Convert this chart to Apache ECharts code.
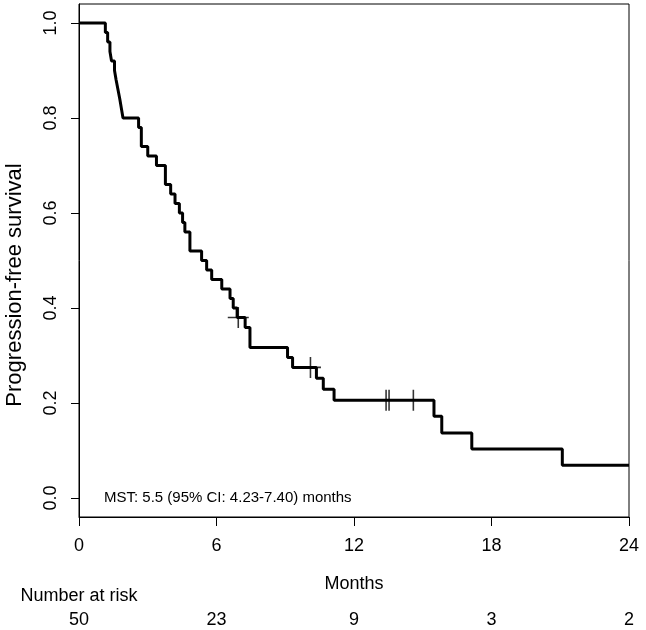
<!DOCTYPE html>
<html>
<head>
<meta charset="utf-8">
<script src="https://cdn.jsdelivr.net/npm/echarts@6/dist/echarts.min.js"></script>
<style>
html,body{margin:0;padding:0;background:#fff;}
#chart{width:646px;height:630px;}
</style>
</head>
<body>
<div id="chart"></div>
<script>
// Kaplan-Meier step data (months, survival after the event)
var times = [0, 1.15, 1.25, 1.35, 1.42, 1.55, 1.62, 1.70, 1.78, 1.85, 1.92,
  2.60, 2.72, 3.00, 3.38, 3.77, 4.00, 4.19, 4.38, 4.52, 4.62, 4.84,
  5.35, 5.57, 5.79, 6.23, 6.59, 6.73, 6.90, 7.25, 7.46, 9.10, 9.32,
  10.36, 10.66, 11.13, 15.49, 15.83, 17.14, 21.09, 24];
var surv = [1.00, 0.98, 0.96, 0.94, 0.92, 0.90, 0.88, 0.86, 0.84, 0.82, 0.80,
  0.78, 0.74, 0.72, 0.70, 0.66, 0.64, 0.62, 0.60, 0.58, 0.56, 0.52,
  0.50, 0.48, 0.46, 0.44, 0.42, 0.40, 0.38, 0.359, 0.317, 0.296, 0.275,
  0.252, 0.229, 0.206, 0.172, 0.137, 0.103, 0.069, 0.069];
// censored observations
var censorTimes = [6.95, 10.10, 13.40, 13.53, 14.59];
var censorSurv = [0.38, 0.275, 0.206, 0.206, 0.206];
// axis ticks
var xTicks = [0, 6, 12, 18, 24];
var yTicks = [0.0, 0.2, 0.4, 0.6, 0.8, 1.0];
// number at risk
var atRiskTimes = [0, 6, 12, 18, 24];
var atRisk = [50, 23, 9, 3, 2];
var mstText = 'MST: 5.5 (95% CI: 4.23-7.40) months';
var yTitle = 'Progression-free survival';
var xTitle = 'Months';

var FONT = '"Liberation Sans", Arial, Helvetica, sans-serif';
var chart = echarts.init(document.getElementById('chart'), null, {renderer: 'canvas'});

var lineData = times.map(function (t, i) { return [t, surv[i]]; });
var censorData = censorTimes.map(function (t, i) { return [t, censorSurv[i]]; });

var option = {
  animation: false,
  backgroundColor: '#ffffff',
  grid: {left: 79, right: 17, top: 4, bottom: 113, show: true, borderColor: '#000', borderWidth: 1, backgroundColor: 'transparent'},
  xAxis: [{
    type: 'value', min: 0, max: 24, interval: 6,
    name: xTitle, nameLocation: 'middle', nameGap: 58,
    nameTextStyle: {fontFamily: FONT, fontSize: 18, color: '#000'},
    axisLine: {show: true, onZero: false, lineStyle: {color: '#000', width: 1}},
    axisTick: {show: true, inside: false, length: 9, lineStyle: {color: '#000', width: 1}},
    axisLabel: {show: true, margin: 20, fontFamily: FONT, fontSize: 18, color: '#000', showMinLabel: true, showMaxLabel: true},
    splitLine: {show: false}
  }, {
    type: 'value', min: 0, max: 24, interval: 6, position: 'bottom', offset: 80,
    axisLine: {show: false}, axisTick: {show: false}, splitLine: {show: false},
    axisLabel: {show: true, margin: 14, fontFamily: FONT, fontSize: 18, color: '#000', showMinLabel: true, showMaxLabel: true,
      formatter: function (v) { var k = atRiskTimes.indexOf(v); return k >= 0 ? String(atRisk[k]) : ''; }}
  }],
  yAxis: {
    type: 'value', min: -0.04, max: 1.04,
    axisLine: {show: true, onZero: false, lineStyle: {color: '#000', width: 1}},
    axisTick: {show: true, inside: false, length: 8, customValues: yTicks, lineStyle: {color: '#000', width: 1}},
    axisLabel: {show: true, rotate: 90, margin: 19, customValues: yTicks, fontFamily: FONT, fontSize: 18, color: '#000',
      formatter: function (v) { return v.toFixed(1); }},
    splitLine: {show: false}
  },
  series: [{
    name: 'PFS', type: 'line', step: 'end', data: lineData, xAxisIndex: 0,
    showSymbol: false, symbol: 'none',
    lineStyle: {color: '#000', width: 3},
    clip: true, z: 3
  }, {
    name: 'Censored', type: 'scatter', data: censorData, xAxisIndex: 0,
    symbol: 'path://M9.25,0h1.5v9.25h9.25v1.5h-9.25v9.25h-1.5v-9.25h-9.25v-1.5h9.25z',
    symbolSize: 21,
    itemStyle: {color: '#000'}, z: 4
  }],
  graphic: [{
    type: 'text', x: 104, y: 498,
    style: {text: mstText, fontFamily: FONT, fontSize: 15, fill: '#000', align: 'left', verticalAlign: 'middle'}
  }, {
    type: 'text', x: 79, y: 596,
    style: {text: 'Number at risk', fontFamily: FONT, fontSize: 18, fill: '#000', align: 'center', verticalAlign: 'middle'}
  }, {
    type: 'text', x: 15, y: 285, rotation: Math.PI / 2,
    style: {text: yTitle, fontFamily: FONT, fontSize: 22, fill: '#000', align: 'center', verticalAlign: 'middle'}
  }]
};
chart.setOption(option);
</script>
</body>
</html>
